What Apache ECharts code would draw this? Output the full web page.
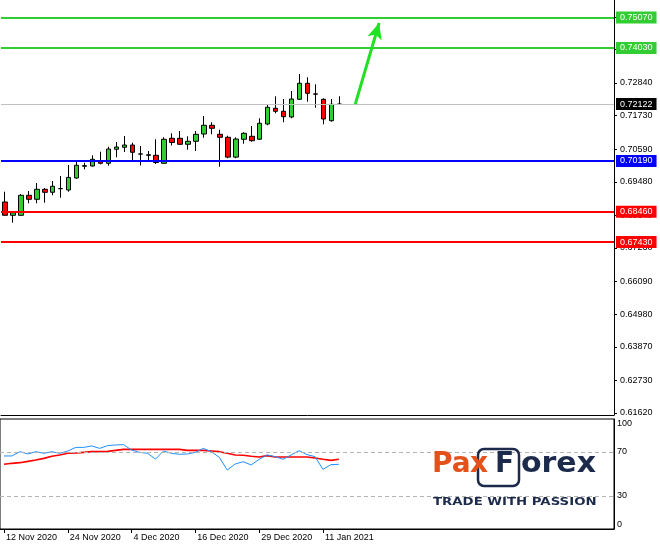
<!DOCTYPE html>
<html><head><meta charset="utf-8">
<script src="https://cdn.jsdelivr.net/npm/echarts@6/dist/echarts.min.js"></script>
<style>html,body{margin:0;padding:0;background:#fff}#c{width:660px;height:544px}</style>
</head><body><div id="c"></div>
<script>
// Categories: trading days, then future empty days
const dates = [
 '12 Nov 2020','13 Nov 2020','16 Nov 2020','17 Nov 2020','18 Nov 2020','19 Nov 2020','20 Nov 2020','23 Nov 2020','24 Nov 2020',
 '25 Nov 2020','26 Nov 2020','27 Nov 2020','30 Nov 2020','1 Dec 2020','2 Dec 2020','3 Dec 2020','4 Dec 2020',
 '7 Dec 2020','8 Dec 2020','9 Dec 2020','10 Dec 2020','11 Dec 2020','14 Dec 2020','15 Dec 2020','16 Dec 2020',
 '17 Dec 2020','18 Dec 2020','21 Dec 2020','22 Dec 2020','23 Dec 2020','24 Dec 2020','28 Dec 2020','29 Dec 2020',
 '30 Dec 2020','31 Dec 2020','4 Jan 2021','5 Jan 2021','6 Jan 2021','7 Jan 2021','8 Jan 2021','11 Jan 2021',
 '12 Jan 2021','13 Jan 2021',
 '14 Jan 2021','15 Jan 2021','18 Jan 2021','19 Jan 2021','20 Jan 2021','21 Jan 2021','22 Jan 2021','25 Jan 2021',
 '26 Jan 2021','27 Jan 2021','28 Jan 2021','29 Jan 2021','1 Feb 2021','2 Feb 2021','3 Feb 2021','4 Feb 2021',
 '5 Feb 2021','8 Feb 2021','9 Feb 2021','10 Feb 2021','11 Feb 2021','12 Feb 2021','15 Feb 2021','16 Feb 2021',
 '17 Feb 2021','18 Feb 2021','19 Feb 2021','22 Feb 2021','23 Feb 2021','24 Feb 2021','25 Feb 2021','26 Feb 2021',
 '1 Mar 2021','2 Mar 2021'];
const labelledDates = ['12 Nov 2020','24 Nov 2020','4 Dec 2020','16 Dec 2020','29 Dec 2020','11 Jan 2021'];

// [open, close, low, high]
const candles = [
 [0.68794,0.68342,0.68335,0.69144],[0.68342,0.68430,0.68090,0.68450],[0.68342,0.69022,0.68335,0.69066],
 [0.69022,0.68886,0.68750,0.69168],[0.68886,0.69226,0.68750,0.69440],[0.69226,0.69124,0.68770,0.69270],
 [0.69124,0.69328,0.69022,0.69508],[0.69246,0.69252,0.68940,0.69678],[0.69202,0.69630,0.69144,0.70052],
 [0.69610,0.70042,0.69586,0.70164],[0.70010,0.70030,0.69906,0.70130],[0.70018,0.70246,0.69994,0.70382],
 [0.70188,0.70110,0.70076,0.70504],[0.70110,0.70596,0.70028,0.70674],[0.70586,0.70664,0.70314,0.70834],
 [0.70654,0.70732,0.70494,0.71038],[0.70732,0.70484,0.70222,0.70810],[0.70430,0.70422,0.70035,0.70698],
 [0.70380,0.70400,0.70154,0.70528],[0.70382,0.70137,0.70086,0.70929],[0.70110,0.70926,0.70100,0.70994],
 [0.70960,0.70817,0.70715,0.71130],[0.70960,0.70756,0.70732,0.71208],[0.70756,0.70858,0.70572,0.71028],
 [0.70858,0.71096,0.70528,0.71208],[0.71106,0.71402,0.70980,0.71718],[0.71402,0.71300,0.71096,0.71504],
 [0.71096,0.70994,0.69994,0.71252],[0.70994,0.70320,0.70280,0.71048],[0.70320,0.70936,0.70280,0.70994],
 [0.70926,0.71130,0.70776,0.71164],[0.71028,0.70878,0.70844,0.71378],[0.70929,0.71470,0.70902,0.71640],
 [0.71446,0.72014,0.71402,0.72092],[0.71980,0.71878,0.71810,0.72388],[0.71878,0.71694,0.71504,0.72296],
 [0.71684,0.72296,0.71640,0.72568],[0.72286,0.72830,0.72270,0.73146],[0.72830,0.72490,0.72204,0.73034],
 [0.72470,0.72460,0.72000,0.72796],[0.72286,0.71616,0.71436,0.72320],[0.71558,0.72116,0.71524,0.72296],
 [0.72118,0.72122,0.72116,0.72388]];

const oscMain = [66.4,66.4,70.3,68.2,70.3,68.8,70.3,68.8,70.9,74.2,74.2,75.5,73.3,75.8,76.4,76.7,71.8,69.7,68.8,
 63.6,70.9,68.8,67.9,68.2,69.7,73.3,70.3,65.2,53.6,59.1,61.2,58.2,63.4,67.3,65.8,63.4,67.3,71.2,67.6,65.8,54.2,58.5,58.8];
const oscSignal = [58.8,59.7,60.3,61.5,62.7,64.2,66.1,67.3,68.8,69.1,69.7,70.3,70.3,70.6,71.5,72.4,72.4,72.4,72.4,
 72.4,72.4,72.4,72.4,71.5,71.5,71.5,70.9,70.3,68.8,67.3,67.0,66.1,65.5,66.7,65.5,65.5,65.5,65.5,65.5,64.5,63.4,62.4,63.4];

const priceTicks = [0.61620,0.62730,0.63870,0.64980,0.66090,0.67230,0.68340,0.69480,0.70590,0.71730,0.72840,0.73980,0.75090];
const oscTicks = [0,30,70,100];
const oscLevels = [70,30];

const levelValues = [0.75070,0.74030,0.72122,0.70190,0.68460,0.67430];
const levelColors = ['#32cd32','#32cd32','#c0c0c0','#0000ff','#ff0000','#ff0000'];
const levelBoxColors = ['#32cd32','#32cd32','#000000','#0000ff','#ff0000','#ff0000'];
const levelWidths = [2,2,1,2,2,2];

const arrowStartIndex = 44, arrowEndIndex = 47;
const arrowStartPrice = 0.72122, arrowEndPrice = 0.74880;

const FONT = 'Liberation Sans';
const chart = echarts.init(document.getElementById('c'), null, {renderer:'canvas'});

const levelMarks = levelValues.map((v,i)=>({
  yAxis: v,
  lineStyle: {color: levelColors[i], width: levelWidths[i], type: 'solid'},
  label: {show: true, position: 'end', distance: 2, formatter: v.toFixed(5),
    color: '#fff', backgroundColor: levelBoxColors[i], padding: [1,4,1,4],
    fontSize: 9, lineHeight: 10, fontFamily: FONT}
}));
const arrowMark = [
  {coord: [arrowStartIndex, arrowStartPrice], symbol: 'none'},
  {coord: [arrowEndIndex, arrowEndPrice], symbol: 'arrow', symbolSize: [11, 16],
   lineStyle: {color: '#22e022', width: 3, type: 'solid'}, label: {show: false}}
];

const isLabelled = (i) => labelledDates.indexOf(dates[i]) >= 0;

chart.setOption({
  animation: false,
  backgroundColor: '#fff',
  grid: [
    {left: 1, right: 46, top: 0, height: 415},
    {left: 0, right: 46, top: 419, height: 110, show: true, borderColor: '#000', borderWidth: 1}
  ],
  xAxis: [
    {type: 'category', data: dates, gridIndex: 0, boundaryGap: true,
     axisLine: {show: true, lineStyle: {color: '#000', width: 1}}, axisTick: {show: false}, axisLabel: {show: false}, splitLine: {show: false}},
    {type: 'category', data: dates, gridIndex: 1, boundaryGap: true,
     axisLine: {show: true, lineStyle: {color: '#000', width: 1}},
     axisTick: {show: true, alignWithLabel: true, length: 4, interval: (i) => isLabelled(i), lineStyle: {color: '#000'}},
     axisLabel: {show: true, interval: (i) => isLabelled(i), align: 'left', padding: [0,0,0,2], margin: 4,
       fontSize: 9, fontFamily: FONT, color: '#000'},
     splitLine: {show: false}}
  ],
  yAxis: [
    {type: 'value', gridIndex: 0, position: 'right', min: 0.61552, max: 0.75662, scale: true,
     axisLine: {show: true, lineStyle: {color: '#000', width: 1}},
     axisTick: {show: true, length: 3, customValues: priceTicks, lineStyle: {color: '#000'}},
     axisLabel: {show: true, customValues: priceTicks, formatter: (v) => v.toFixed(5), margin: 6,
       fontSize: 9, fontFamily: FONT, color: '#000'},
     splitLine: {show: false}},
    {type: 'value', gridIndex: 1, position: 'right', min: 0, max: 100,
     axisLine: {show: true, lineStyle: {color: '#000', width: 1}},
     axisTick: {show: false},
     axisLabel: {show: true, customValues: oscTicks, margin: 3, fontSize: 9, fontFamily: FONT, color: '#000',
       verticalAlignMinLabel: 'bottom', verticalAlignMaxLabel: 'top'},
     splitLine: {show: false}}
  ],
  series: [
    {type: 'candlestick', xAxisIndex: 0, yAxisIndex: 0, data: candles, barWidth: 5,
     itemStyle: {color: '#32cd32', color0: '#ff0000', borderColor: '#000', borderColor0: '#000', borderWidth: 1},
     markLine: {silent: true, precision: 5, symbol: ['none','none'], animation: false,
       data: levelMarks.concat([arrowMark])}},
    {type: 'line', xAxisIndex: 1, yAxisIndex: 1, data: oscSignal, showSymbol: false, symbol: 'none',
     lineStyle: {color: '#ff0000', width: 1.6}, z: 3},
    {type: 'line', xAxisIndex: 1, yAxisIndex: 1, data: oscMain, showSymbol: false, symbol: 'none',
     lineStyle: {color: '#1e90ff', width: 1}, z: 4,
     markLine: {silent: true, symbol: ['none','none'], label: {show: false},
       lineStyle: {color: '#b4b4b4', type: [4,3], width: 1},
       data: oscLevels.map(v => ({yAxis: v}))}}
  ],
  graphic: [
    {type: 'text', left: 432, top: 451, z: 10, style: {text: 'Pa', fill: '#e4521b', font: 'bold 28px "DejaVu Sans"'}},
    {type: 'text', left: 470, top: 451, z: 10, style: {text: 'x', fill: '#e4521b', font: 'bold 28px "DejaVu Sans"'}},
    {type: 'rect', shape: {x: 478, y: 449, width: 41, height: 37, r: 6}, z: 9,
     style: {fill: 'none', stroke: '#1c2b4b', lineWidth: 2.5}},
    {type: 'text', left: 495, top: 451, z: 10, style: {text: 'F', fill: '#1c2b4b', font: 'bold 28px "DejaVu Sans"'}},
    {type: 'text', x: 521, y: 451, scaleX: 1.07, z: 10, style: {text: 'orex', fill: '#1c2b4b', font: 'bold 28px "DejaVu Sans"'}},
    {type: 'text', x: 433, y: 497, scaleX: 1.33, z: 10, style: {text: 'TRADE WITH PASSION', fill: '#1c2b4b', font: 'bold 10px "DejaVu Sans"'}}
  ]
});
</script>
</body></html>
